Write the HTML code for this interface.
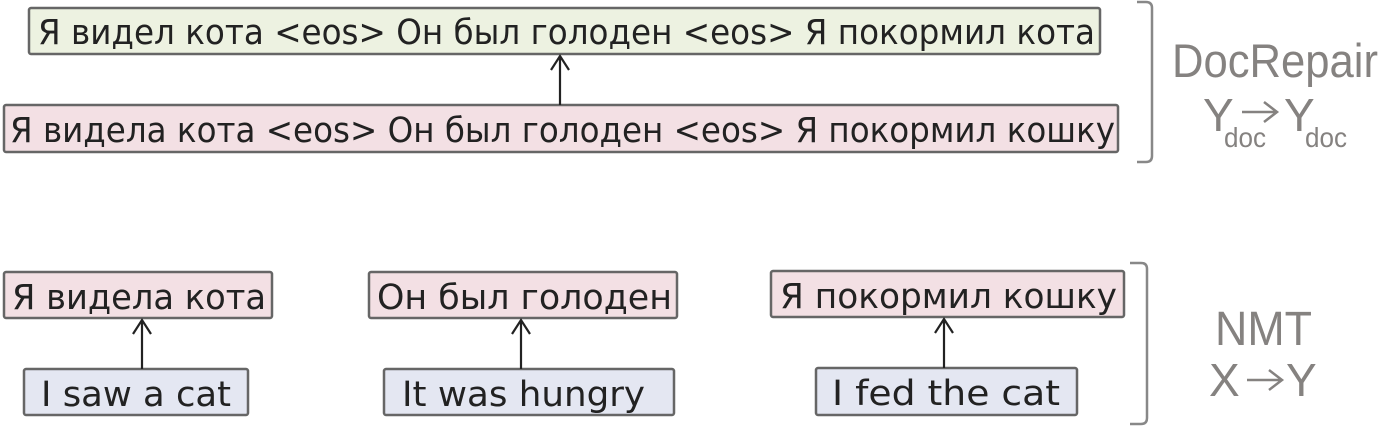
<!DOCTYPE html>
<html><head><meta charset="utf-8"><style>
html,body{margin:0;padding:0;background:#fff;width:1380px;height:426px;overflow:hidden}
text.t{font-family:"DejaVu Sans","Liberation Sans",sans-serif;font-size:35px;fill:#222}
text.g{font-family:"Liberation Sans","DejaVu Sans",sans-serif;fill:#858280}
</style></head><body>
<svg width="1380" height="426" viewBox="0 0 1380 426" xmlns="http://www.w3.org/2000/svg">
<g stroke="#666" stroke-width="2.5">
<rect x="29" y="8" width="1071" height="46" rx="2" fill="#edf2e1"/>
<rect x="4" y="105" width="1114" height="47" rx="2" fill="#f3e0e4"/>
<rect x="4" y="272" width="268" height="46" rx="2" fill="#f3e0e4"/>
<rect x="369" y="272" width="308" height="46" rx="2" fill="#f3e0e4"/>
<rect x="771" y="271" width="353" height="46" rx="2" fill="#f3e0e4"/>
<rect x="24" y="369" width="224" height="46" rx="2" fill="#e4e7f2"/>
<rect x="384" y="369" width="290" height="46" rx="2" fill="#e4e7f2"/>
<rect x="816" y="368" width="261" height="47" rx="2" fill="#e4e7f2"/>
</g>
<g stroke="#222" stroke-width="2.2" fill="none">
<path d="M560 105V56M551 70L560 56L569 70"/>
<path d="M142 369V320M133 334L142 320L151 334"/>
<path d="M521 369V320M512 334L521 320L530 334"/>
<path d="M944 368V319M935 333L944 319L953 333"/>
</g>
<g stroke="#888" stroke-width="2.5" fill="none">
<path d="M1137 2H1146Q1152 2 1152 8V156Q1152 162 1146 162H1137"/>
<path d="M1130 263H1141Q1147 263 1147 269V418Q1147 424 1141 424H1130"/>
</g>
<text class="t" x="38" y="44" textLength="1057" lengthAdjust="spacingAndGlyphs">Я видел кота &lt;eos&gt; Он был голоден &lt;eos&gt; Я покормил кота</text>
<text class="t" x="10" y="142" textLength="1105" lengthAdjust="spacingAndGlyphs">Я видела кота &lt;eos&gt; Он был голоден &lt;eos&gt; Я покормил кошку</text>
<text class="t" x="12" y="309" textLength="254" lengthAdjust="spacingAndGlyphs">Я видела кота</text>
<text class="t" x="377" y="309" textLength="295" lengthAdjust="spacingAndGlyphs">Он был голоден</text>
<text class="t" x="780" y="308" textLength="337" lengthAdjust="spacingAndGlyphs">Я покормил кошку</text>
<text class="t" x="41" y="406" textLength="190" lengthAdjust="spacingAndGlyphs">I saw a cat</text>
<text class="t" x="402" y="406" textLength="243" lengthAdjust="spacingAndGlyphs">It was hungry</text>
<text class="t" x="832" y="405" textLength="228" lengthAdjust="spacingAndGlyphs">I fed the cat</text>
<text class="g" x="1172" y="77" font-size="47" textLength="206" lengthAdjust="spacingAndGlyphs">DocRepair</text>
<text class="g" x="1203" y="131" font-size="46">Y</text>
<text class="g" x="1224" y="147" font-size="28" textLength="42" lengthAdjust="spacingAndGlyphs">doc</text>
<text class="g" x="1284" y="131" font-size="46">Y</text>
<text class="g" x="1305" y="147" font-size="28" textLength="42" lengthAdjust="spacingAndGlyphs">doc</text>
<path d="M1242 112H1276M1264 102L1277 112L1264 122" stroke="#858280" stroke-width="2.5" fill="none"/>
<text class="g" x="1215" y="345" font-size="48" textLength="97" lengthAdjust="spacingAndGlyphs">NMT</text>
<text class="g" x="1209" y="396" font-size="46">X</text>
<text class="g" x="1286" y="396" font-size="46">Y</text>
<path d="M1247 380H1281M1269 370L1282 380L1269 390" stroke="#858280" stroke-width="2.5" fill="none"/>
</svg>
</body></html>
